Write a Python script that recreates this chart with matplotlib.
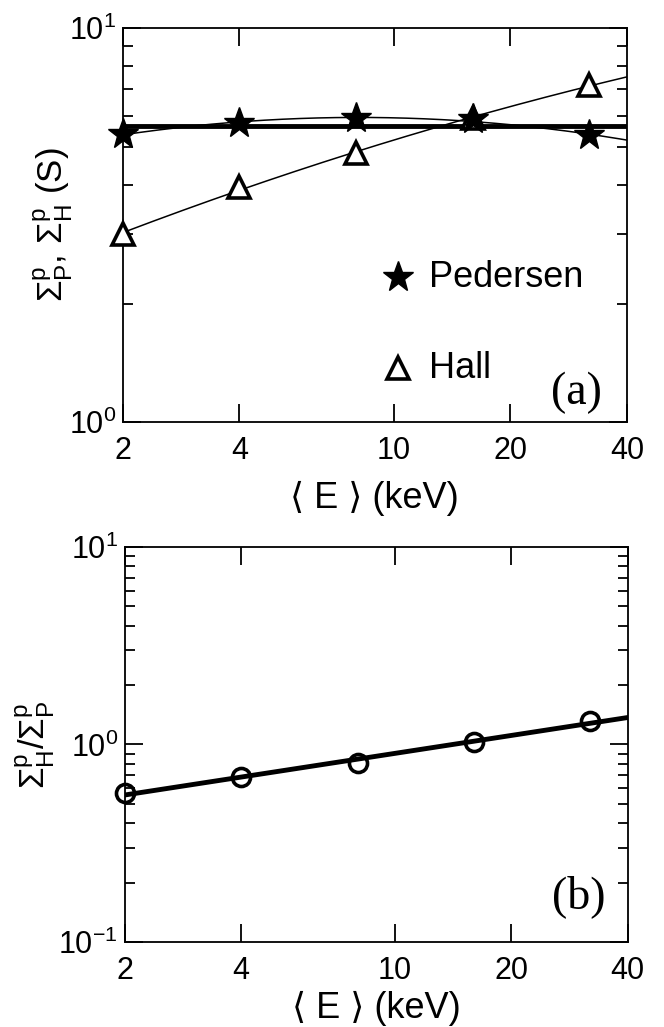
import matplotlib
matplotlib.use('Agg')
import matplotlib.pyplot as plt
import numpy as np
from matplotlib.ticker import FixedLocator, LogLocator, NullLocator, NullFormatter

# values
energy = [2, 4, 8, 16, 32]
pedersen = [5.38, 5.75, 5.90, 5.87, 5.35]
hall = [3.0, 3.96, 4.81, 5.9, 7.17]
ratio = [0.57, 0.683, 0.804, 1.03, 1.32]

x_ticks = [2, 4, 10, 20, 40]
x_ticklabels = ['2', '4', '10', '20', '40']

plt.rcParams['font.family'] = ['Liberation Sans', 'DejaVu Sans']
plt.rcParams['mathtext.fontset'] = 'custom'
plt.rcParams['mathtext.rm'] = 'Liberation Sans'
plt.rcParams['mathtext.it'] = 'Liberation Sans'
plt.rcParams['mathtext.default'] = 'regular'

FS = 22


def log_fit(x, y, deg, x_new):
    pars = np.polyfit(np.log10(x), np.log10(y), deg)
    return 10 ** np.polyval(pars, np.log10(x_new))


def style_axes(ax, ymin, ymax):
    ax.set_xscale('log')
    ax.set_yscale('log')
    ax.set_xlim(2, 40)
    ax.set_ylim(ymin, ymax)
    ax.xaxis.set_major_locator(FixedLocator(x_ticks))
    ax.xaxis.set_minor_locator(NullLocator())
    ax.set_xticklabels(x_ticklabels)
    ax.yaxis.set_major_locator(LogLocator(base=10))
    ax.yaxis.set_minor_locator(LogLocator(base=10, subs=np.arange(2, 10)))
    ax.yaxis.set_minor_formatter(NullFormatter())
    ax.tick_params(which='both', direction='in', top=True, right=True, width=1.3, labelsize=FS)
    ax.tick_params(which='major', length=13)
    ax.tick_params(which='minor', length=7)
    ax.tick_params(axis='x', pad=10)
    ax.tick_params(axis='y', pad=5)
    for sp in ax.spines.values():
        sp.set_linewidth(1.3)


fig = plt.figure(figsize=(6.64, 10.27), dpi=100)
ax1 = fig.add_axes([0.185, 0.589, 0.759, 0.3836])
ax2 = fig.add_axes([0.188, 0.0828, 0.7575, 0.3846])

x_fine = np.logspace(np.log10(2), np.log10(40), 200)

# (a) conductances
style_axes(ax1, 1, 10)
ped_mean = 10 ** np.mean(np.log10(pedersen))
ax1.plot([2, 40], [ped_mean, ped_mean], color='black', lw=3.5, zorder=2)
ax1.plot(x_fine, log_fit(energy, pedersen, 2, x_fine), color='black', lw=1.1, zorder=2)
ax1.plot(x_fine, log_fit(energy, hall, 2, x_fine), color='black', lw=1.1, zorder=2)
ax1.plot(energy, hall, linestyle='none', marker='^', ms=16, mfc='white', mec='black',
         mew=2.6, clip_on=False, zorder=3)
ax1.plot(energy, pedersen, linestyle='none', marker='*', ms=23, color='black',
         clip_on=False, zorder=4)

ax1.plot([0.546], [0.368], transform=ax1.transAxes, marker='*', ms=23, color='black')
ax1.text(0.608, 0.368, 'Pedersen', transform=ax1.transAxes, fontsize=26, va='center')
ax1.plot([0.546], [0.137], transform=ax1.transAxes, marker='^', ms=16, mfc='white',
         mec='black', mew=2.6)
ax1.text(0.608, 0.137, 'Hall', transform=ax1.transAxes, fontsize=26, va='center')
ax1.text(0.95, 0.075, '(a)', transform=ax1.transAxes, fontsize=33, ha='right',
         va='center', family='Liberation Serif')

ax1.set_ylabel(r'$\Sigma^{p}_{P}$, $\Sigma^{p}_{H}$ (S)', fontsize=25)
ax1.yaxis.set_label_coords(-0.095, 0.5)
ax1.set_xlabel('⟨ E ⟩ (keV)', fontsize=26)
ax1.xaxis.set_label_coords(0.5, -0.15)

# (b) ratio
style_axes(ax2, 0.1, 10)
ax2.plot(x_fine, log_fit(energy, ratio, 1, x_fine), color='black', lw=3.5, zorder=2)
ax2.plot(energy, ratio, linestyle='none', marker='o', ms=13, mfc='none', mec='black',
         mew=2.6, clip_on=False, zorder=3)
ax2.text(0.955, 0.114, '(b)', transform=ax2.transAxes, fontsize=33, ha='right',
         va='center', family='Liberation Serif')

ax2.set_ylabel(r'$\Sigma^{p}_{H}/\Sigma^{p}_{P}$', fontsize=25)
ax2.yaxis.set_label_coords(-0.135, 0.5)
ax2.set_xlabel('⟨ E ⟩ (keV)', fontsize=26)
ax2.xaxis.set_label_coords(0.5, -0.125)

fig.savefig('out.png', dpi=100)
